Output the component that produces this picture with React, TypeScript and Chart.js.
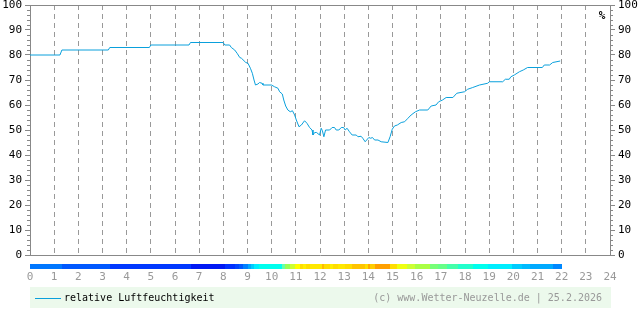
import React, { useEffect, useRef } from "react";
import { Chart, registerables } from "chart.js";

Chart.register(...registerables);

const hours = [
  0, 1.24, 1.32, 3.24, 3.3, 4.94, 5.0, 6.58, 6.64, 7.99, 8.06, 8.26, 8.33, 8.47, 8.57, 8.68, 8.75, 8.93, 9.02,
  9.12, 9.2, 9.27, 9.33, 9.43, 9.5, 9.6, 9.64, 9.99, 10.12, 10.26, 10.33, 10.44, 10.5, 10.58, 10.67, 10.77,
  10.86, 10.95, 11.02, 11.13, 11.23, 11.36, 11.46, 11.57, 11.67, 11.71, 11.78, 11.86, 11.98, 12.05, 12.1,
  12.16, 12.23, 12.4, 12.5, 12.6, 12.67, 12.78, 12.88, 12.98, 13.04, 13.12, 13.22, 13.33, 13.5, 13.57, 13.7,
  13.77, 13.87, 13.93, 14.02, 14.1, 14.17, 14.26, 14.4, 14.53, 14.81, 14.9, 14.99, 15.08, 15.2, 15.36, 15.5,
  15.64, 15.77, 15.95, 16.12, 16.46, 16.6, 16.8, 16.91, 17.07, 17.22, 17.5, 17.66, 17.98, 18.11, 18.32, 18.6,
  18.94, 19.0, 19.56, 19.67, 19.83, 19.9, 20.04, 20.25, 20.41, 20.59, 21.2, 21.28, 21.5, 21.63, 21.94,
];

const humidity = [
  80, 80, 82, 82, 83, 83, 84, 84, 85, 85, 84, 84, 83, 82, 80.7, 79, 78.7, 77, 76.7,
  74.7, 72.7, 70, 68, 68.4, 69, 68.7, 68, 68, 67.3, 66.7, 65.3, 64.4, 62, 59.6, 58, 57.3,
  57.7, 56, 54, 51.3, 52, 53.7, 52.7, 51, 50, 48, 49, 49, 48, 50.7, 49.7,
  47.3, 50, 50, 51, 51, 50, 50, 51, 51, 50, 50.7, 49.3, 48, 48, 47.3, 47.5,
  46.7, 45.3, 46, 47, 46.7, 47, 46, 46, 45.3, 45, 47.3, 50.3, 51.6, 52, 53, 53.3,
  54.7, 56, 57.3, 58, 58, 59.6, 60, 61.3, 62, 63, 63, 64.7, 65.3, 66.3, 67, 68,
  68.7, 69.3, 69.3, 70.3, 70.3, 71.3, 72, 73.3, 74, 75, 75, 76, 76, 77, 77.6,
];

// colour strip below the axis: segment start hours + colours, last segment ends at stripEnd
const stripStarts = [
  0, 1.32, 3.31, 6.66, 8.07, 8.48, 8.65, 8.81, 9.02, 9.14, 9.27, 9.47, 10.43, 10.55, 10.76, 10.96, 11.17,
  11.29, 11.42, 11.58, 12.08, 12.16, 12.41, 12.54, 12.74, 13.03, 13.32, 13.86, 13.98, 14.07, 14.27, 14.89,
  15.18, 15.6, 15.93, 16.55, 16.88, 17.25, 17.71, 18.33, 18.95, 19.94, 20.36, 20.69, 21.64,
];
const stripColors = [
  "#0077ff", "#0058ff", "#0038ff", "#0018f4", "#0030ff", "#0044ff", "#0058ff", "#0080ff", "#00a8ff", "#00ccff",
  "#00eeff", "#00ffee", "#66ffaa", "#99ff55", "#ccff33", "#ffff00", "#ffdd00", "#ffee00", "#ffdd00", "#ffe800",
  "#ffbb00", "#ffdd00", "#ffee00", "#ffdd00", "#ffe800", "#ffdd00", "#ffc400", "#ffdd00", "#ffaa00", "#ffcc00",
  "#ffa000", "#ffdd00", "#eeff11", "#ccff33", "#aaff44", "#77ff77", "#66ff88", "#44ffaa", "#22ffcc", "#00ffee",
  "#00eeff", "#00ccff", "#00bbff", "#00aaff", "#0088ff",
];
const stripEnd = 22.0;

const seriesLabel = "relative Luftfeuchtigkeit";
const copyright = "(c) www.Wetter-Neuzelle.de | 25.2.2026";
const unitLabel = "%";

const FONT = "'DejaVu Sans Mono', monospace";
const LINE_COLOR = "#0aa0dc";
const AXIS_COLOR = "#888888";

const extrasPlugin = {
  id: "extras",
  afterDraw(chart: any) {
    const ctx = chart.ctx;
    const xs = chart.scales.x;
    const ys = chart.scales.y;
    const ys2 = chart.scales.y2;
    const area = chart.chartArea;
    ctx.save();
    // top border
    ctx.strokeStyle = AXIS_COLOR;
    ctx.lineWidth = 1;
    ctx.beginPath();
    ctx.moveTo(area.left, Math.round(area.top) + 0.5);
    ctx.lineTo(area.right, Math.round(area.top) + 0.5);
    ctx.stroke();
    // minor ticks every 2 units on both y axes
    ctx.beginPath();
    for (let v = 0; v <= 100; v += 2) {
      if (v % 10 === 0) continue;
      const py = Math.round(ys.getPixelForValue(v)) + 0.5;
      ctx.moveTo(ys.right - 3, py);
      ctx.lineTo(ys.right, py);
      const py2 = Math.round(ys2.getPixelForValue(v)) + 0.5;
      ctx.moveTo(ys2.left, py2);
      ctx.lineTo(ys2.left + 3, py2);
    }
    ctx.stroke();
    // colour strip
    const top = Math.round(area.bottom) + 9;
    for (let i = 0; i < stripStarts.length; i++) {
      const x0 = xs.getPixelForValue(stripStarts[i]);
      const x1 = xs.getPixelForValue(i + 1 < stripStarts.length ? stripStarts[i + 1] : stripEnd);
      ctx.fillStyle = stripColors[i];
      ctx.fillRect(Math.round(x0), top, Math.round(x1) - Math.round(x0), 5);
    }
    // legend box
    const boxTop = 287;
    const boxH = 21;
    ctx.fillStyle = "#ecf9ec";
    ctx.fillRect(area.left, boxTop, area.right - area.left + 1, boxH);
    const cy = boxTop + boxH / 2;
    ctx.strokeStyle = chart.data.datasets[0].borderColor;
    ctx.lineWidth = 1;
    ctx.beginPath();
    ctx.moveTo(area.left + 5, Math.round(cy) + 0.5);
    ctx.lineTo(area.left + 31, Math.round(cy) + 0.5);
    ctx.stroke();
    ctx.font = "10px " + FONT;
    ctx.textBaseline = "middle";
    ctx.fillStyle = "#000";
    ctx.textAlign = "left";
    ctx.fillText(chart.data.datasets[0].label, area.left + 34, cy + 1);
    ctx.fillStyle = "#999";
    ctx.textAlign = "right";
    ctx.fillText(copyright, area.right - 8, cy + 1);
    // unit label
    ctx.fillStyle = "#000";
    ctx.font = "bold 11px " + FONT;
    ctx.textAlign = "center";
    ctx.fillText(unitLabel, area.right - 8, area.top + 11);
    ctx.restore();
  },
};

export default function App() {
  const ref = useRef<HTMLCanvasElement | null>(null);
  useEffect(() => {
    if (!ref.current) return;
    const fitY = (s: any) => {
      s.width = 30;
      s.paddingTop = 0;
      s.paddingBottom = 0;
    };
    const yAxisCommon = {
      type: "linear",
      min: 0,
      max: 100,
      ticks: { stepSize: 10, color: "#000", font: { family: FONT, size: 11 }, padding: 3 },
      grid: { drawOnChartArea: false, drawTicks: true, tickLength: 5, color: AXIS_COLOR },
      border: { color: AXIS_COLOR },
      afterFit: fitY,
    };
    const chart = new Chart(ref.current, {
      type: "line",
      data: {
        datasets: [
          {
            label: seriesLabel,
            data: hours.map((h, i) => ({ x: h, y: humidity[i] })),
            borderColor: LINE_COLOR,
            borderWidth: 1,
            pointRadius: 0,
            tension: 0,
            fill: false,
          },
        ],
      },
      options: {
        animation: false,
        responsive: false,
        layout: { padding: { top: 5, left: 0, right: 0, bottom: 0 } },
        plugins: { legend: { display: false }, tooltip: { enabled: false } },
        scales: {
          x: {
            type: "linear",
            min: 0,
            max: 24,
            ticks: { stepSize: 1, color: "#999", font: { family: FONT, size: 11 }, padding: 16, autoSkip: false, maxRotation: 0 },
            grid: { drawTicks: false, color: "#999", lineWidth: 1 },
            border: { color: AXIS_COLOR, dash: [5, 4] },
            afterFit: (s: any) => {
              s.height = 60;
              s.paddingLeft = 0;
              s.paddingRight = 0;
            },
          },
          y: { ...yAxisCommon, position: "left" },
          y2: { ...yAxisCommon, position: "right" },
        },
      } as any,
      plugins: [extrasPlugin],
    } as any);
    return () => chart.destroy();
  }, []);
  return (
    <div style={{ position: "absolute", left: 0, top: 0, width: 640, height: 315, background: "#fff" }}>
      <canvas ref={ref} width={640} height={315} />
    </div>
  );
}
